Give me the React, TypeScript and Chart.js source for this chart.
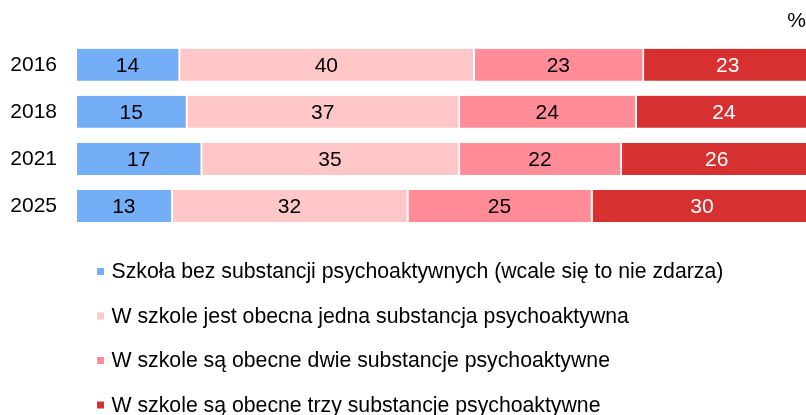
import React, { useEffect, useRef } from 'react';
import { Chart, registerables } from 'chart.js';

Chart.register(...registerables);

const FONT = '"Liberation Sans", Arial, Helvetica, sans-serif';

const years = ['2016', '2018', '2021', '2025'];
const seriesLabels = [
  'Szkoła bez substancji psychoaktywnych (wcale się to nie zdarza)',
  'W szkole jest obecna jedna substancja psychoaktywna',
  'W szkole są obecne dwie substancje psychoaktywne',
  'W szkole są obecne trzy substancje psychoaktywne',
];
const noneValues = [14, 15, 17, 13];
const oneValues = [40, 37, 35, 32];
const twoValues = [23, 24, 22, 25];
const threeValues = [23, 24, 26, 30];
const seriesColors = ['#74AEF6', '#FFC7C8', '#FF8C96', '#D63030'];
const valueTextColors = ['#000000', '#000000', '#000000', '#FFFFFF'];
const unitLabel = '%';
// the original plot runs slightly past the right edge of the picture
const visibleMax = 99;

const valueLabels = {
  id: 'valueLabels',
  afterDatasetsDraw(chart: any) {
    const ctx = chart.ctx;
    ctx.save();
    ctx.font = `21px ${FONT}`;
    ctx.textAlign = 'center';
    ctx.textBaseline = 'middle';
    chart.data.datasets.forEach((ds: any, i: number) => {
      const meta = chart.getDatasetMeta(i);
      meta.data.forEach((el: any, j: number) => {
        const p = el.getCenterPoint();
        ctx.fillStyle = valueTextColors[i];
        ctx.fillText(String(ds.data[j]), p.x - 1, p.y + 1);
      });
    });
    ctx.restore();
  },
};

const bottomLegend = {
  id: 'bottomLegend',
  afterDraw(chart: any) {
    const { ctx, chartArea } = chart;
    ctx.save();
    ctx.font = `21.25px ${FONT}`;
    ctx.textAlign = 'left';
    ctx.textBaseline = 'middle';
    chart.data.datasets.forEach((ds: any, i: number) => {
      const y = chartArea.bottom + 43 + i * 44.5;
      ctx.fillStyle = ds.backgroundColor;
      ctx.fillRect(97, y - 4.5, 7, 7);
      ctx.fillStyle = '#000000';
      ctx.fillText(ds.label, 111.5, y);
    });
    ctx.restore();
  },
};

export default function App() {
  const ref = useRef<HTMLCanvasElement | null>(null);

  useEffect(() => {
    if (!ref.current) return;
    const valueSets = [noneValues, oneValues, twoValues, threeValues];
    const chart = new Chart(ref.current, {
      type: 'bar',
      data: {
        labels: years,
        datasets: valueSets.map((vals, i) => ({
          label: seriesLabels[i],
          data: vals,
          backgroundColor: seriesColors[i],
          borderColor: '#FFFFFF',
          borderWidth: { top: 0, bottom: 0, left: 0, right: 2 },
          borderSkipped: false,
          barThickness: 32,
        })),
      },
      options: {
        indexAxis: 'y',
        responsive: false,
        animation: false,
        layout: { padding: { left: 0, right: 0, top: 0, bottom: 185.5 } },
        scales: {
          x: {
            stacked: true,
            min: 0,
            max: visibleMax,
            display: false,
          },
          y: {
            stacked: true,
            grid: { display: false, drawTicks: false },
            border: { display: false },
            ticks: {
              color: '#000000',
              padding: 20,
              font: { family: FONT, size: 21 },
            },
            afterFit: (scale: any) => {
              scale.width = 77;
            },
          },
        },
        plugins: {
          legend: { display: false },
          tooltip: { enabled: false },
          title: {
            display: true,
            text: unitLabel,
            align: 'end',
            color: '#000000',
            font: { family: FONT, size: 21, weight: 'normal' },
            padding: { top: 9, bottom: 7 },
          },
        },
      },
      plugins: [valueLabels, bottomLegend],
    } as any);
    return () => chart.destroy();
  }, []);

  return (
    <div style={{ position: 'absolute', left: 0, top: 0, width: 806, height: 415, background: '#fff' }}>
      <canvas ref={ref} width={806} height={415} />
    </div>
  );
}
